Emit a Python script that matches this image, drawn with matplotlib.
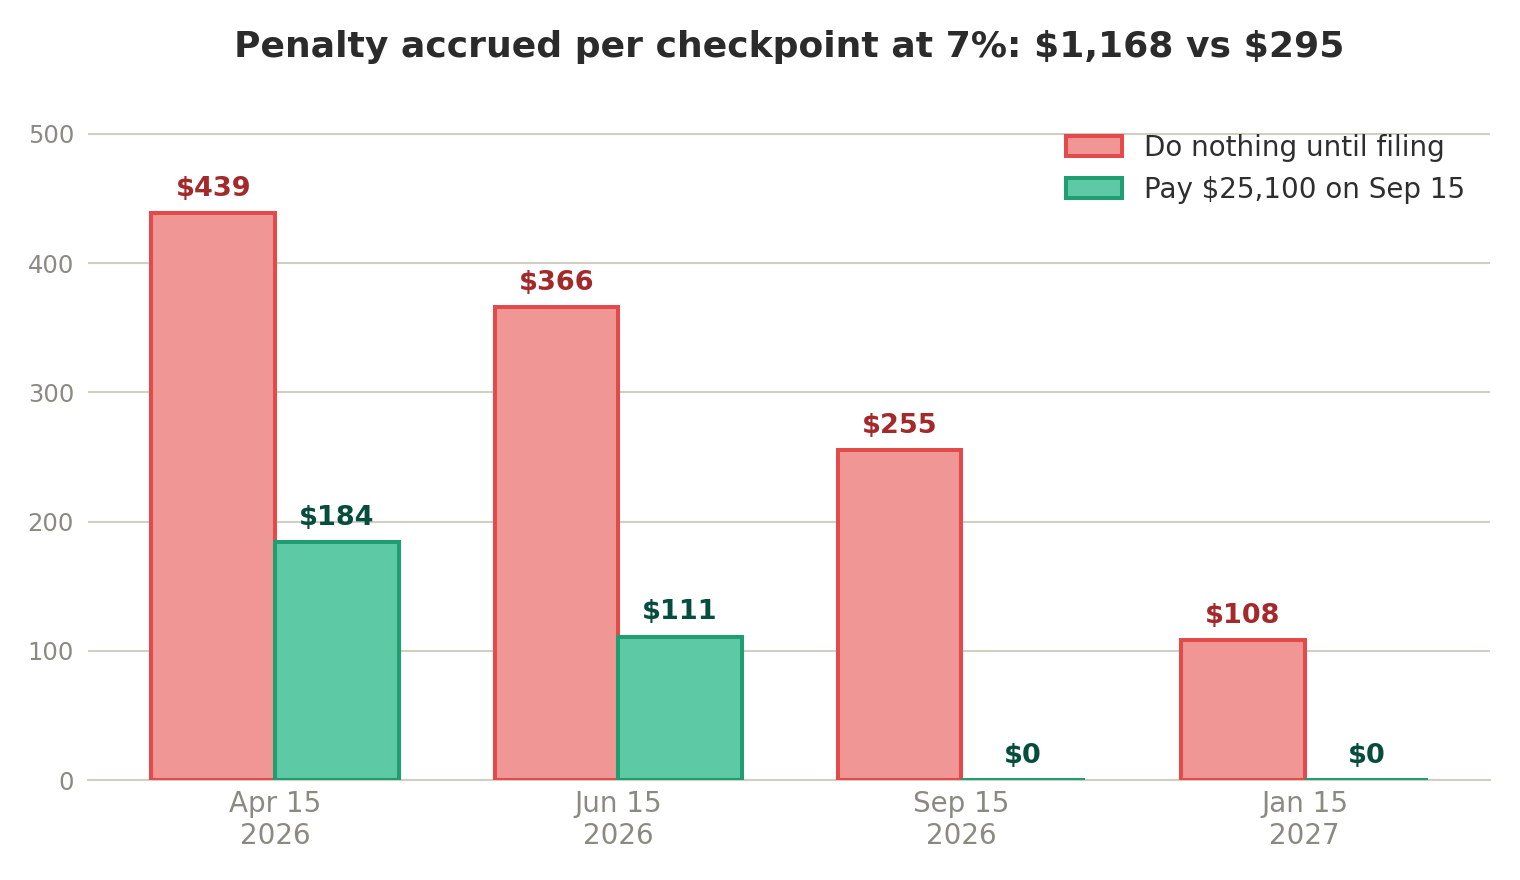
import numpy as np
import matplotlib
matplotlib.use("Agg")
from matplotlib import pyplot as plt

# Data
checkpoints = ["Apr 15\n2026", "Jun 15\n2026", "Sep 15\n2026", "Jan 15\n2027"]
do_nothing = [439, 366, 255, 108]
pay_sep15 = [184, 111, 0, 0]
series_names = ["Do nothing until filing", "Pay \\$25,100 on Sep 15"]

# Colours
red_fill, red_edge, red_text = "#F09795", "#E34B4B", "#A3292B"
green_fill, green_edge, green_text = "#5DC9A5", "#1F9E72", "#064D3E"
grid_col = "#D0CFC4"
tick_col = "#8A8A82"

plt.rcParams["font.family"] = "DejaVu Sans"

fig = plt.figure(figsize=(15.2, 8.8), dpi=100)
ax = fig.add_axes([88 / 1520, 100 / 880, (1490 - 88) / 1520, (780 - 95) / 880])

x = np.arange(len(checkpoints))
w = 0.36
bars_a = ax.bar(x - w / 2, do_nothing, w, color=red_fill, edgecolor=red_edge,
                linewidth=2.9, label=series_names[0], zorder=3)
bars_b = ax.bar(x + w / 2, pay_sep15, w, color=green_fill, edgecolor=green_edge,
                linewidth=2.9, label=series_names[1], zorder=3)

# Value labels above each bar
for bars, col in ((bars_a, red_text), (bars_b, green_text)):
    for b in bars:
        h = b.get_height()
        ax.annotate(f"\\${h:,.0f}", (b.get_x() + b.get_width() / 2, h),
                    xytext=(0, 8), textcoords="offset points",
                    ha="center", va="bottom", fontsize=19.5, fontweight="bold",
                    color=col, zorder=4)

ax.set_xlim(-0.545, 3.54)
ax.set_ylim(0, 530)
ax.set_yticks(range(0, 501, 100))
ax.set_xticks(x)
ax.set_xticklabels(checkpoints)
ax.tick_params(axis="x", length=0, labelsize=20, labelcolor=tick_col, pad=7)
ax.tick_params(axis="y", length=0, labelsize=17.5, labelcolor=tick_col, pad=10)

ax.grid(axis="y", color=grid_col, linewidth=1.5, zorder=0)
for side in ("top", "right", "left"):
    ax.spines[side].set_visible(False)
ax.spines["bottom"].set_color(grid_col)
ax.spines["bottom"].set_linewidth(1.5)

ax.legend(loc="upper right", bbox_to_anchor=(1.0, 0.98), frameon=False,
          fontsize=20, labelcolor="#2E2E2E", handlelength=2.0, handleheight=0.7,
          labelspacing=0.5)

fig.suptitle("Penalty accrued per checkpoint at 7%: \\$1,168 vs \\$295",
             x=(234 + 1344) / 2 / 1520, y=1 - 47 / 880, va="center",
             fontsize=26, fontweight="bold", color="#2B2B2B")

fig.savefig("out.png", dpi=100)
